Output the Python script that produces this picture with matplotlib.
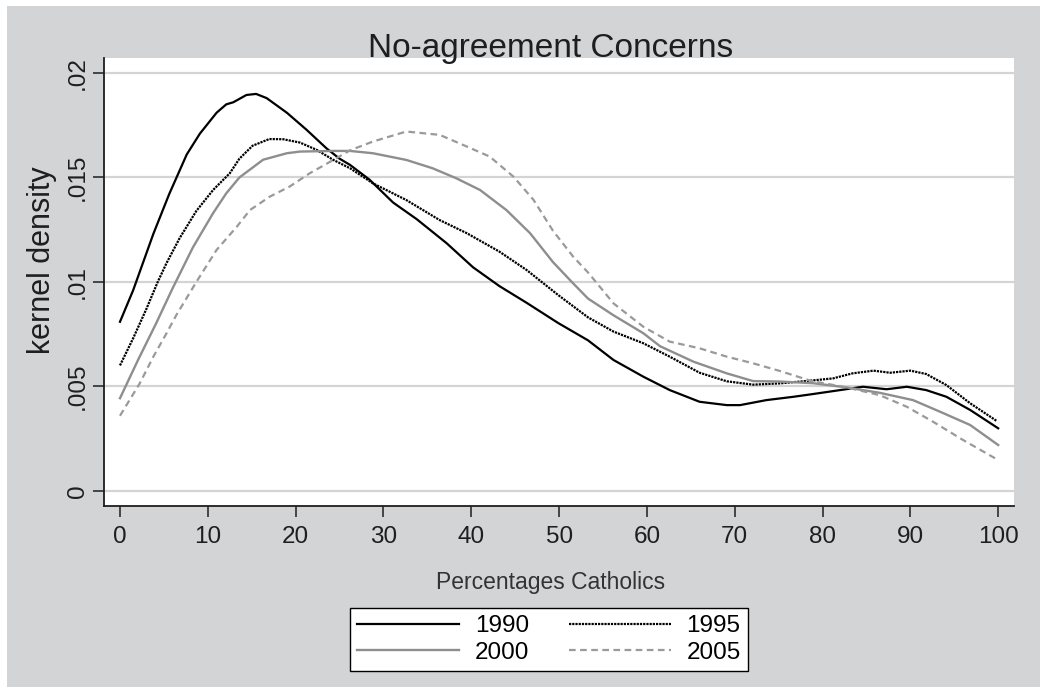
"""Kernel density of Catholic percentages, no-agreement concerns (Stata look)."""

import matplotlib
matplotlib.use('Agg')
import matplotlib.pyplot as plt
from matplotlib.patches import Rectangle

plt.rcParams['font.family'] = ['Liberation Sans', 'DejaVu Sans']

# Data
X_1990 = [0, 1.5, 3.8, 5.6, 7.6, 9.1, 11.0, 12.1, 12.9, 14.4, 15.5, 16.7, 19.0,
          21.2, 23.5, 25.0, 26.2, 28.4, 31.1, 33.8, 37.2, 40.2, 43.2, 46.3,
          49.9, 53.3, 56.2, 59.6, 62.6, 66.0, 69.1, 70.6, 73.6, 76.7, 78.9,
          82.0, 84.6, 87.3, 89.6, 91.8, 94.1, 96.8, 100]
Y_1990 = [0.00809, 0.0096, 0.0123, 0.0142, 0.0161, 0.0171, 0.0181, 0.0185,
          0.0186, 0.01895, 0.0190, 0.0188, 0.0181, 0.0173, 0.0164,
          0.0159, 0.0156, 0.0149, 0.0138, 0.0130, 0.01185, 0.0107, 0.0098,
          0.0090, 0.00803, 0.0072, 0.00626, 0.00546, 0.00482, 0.00426,
          0.0041, 0.0041, 0.00434, 0.0045, 0.00463, 0.00482, 0.00498,
          0.00486, 0.00498, 0.00482, 0.0045, 0.00387, 0.00299]

X_1995 = [0, 1.5, 3.0, 4.3, 5.3, 6.8, 8.7, 10.6, 12.5, 13.6, 15.1, 17.0, 18.6,
          20.5, 22.4, 24.3, 26.2, 28.8, 32.6, 36.4, 39.5, 43.2, 46.3, 49.9,
          53.3, 56.2, 59.6, 62.6, 66.0, 69.1, 72.1, 75.1, 78.8, 81.2, 83.4,
          85.8, 87.7, 90.0, 91.8, 94.1, 96.8, 99.8]
Y_1995 = [0.0060, 0.0073, 0.0087, 0.0100, 0.0109, 0.0121, 0.0134, 0.0144,
          0.0152, 0.0159, 0.01652, 0.01684, 0.01683, 0.01667, 0.01632,
          0.01584, 0.01544, 0.01472, 0.01392, 0.01296, 0.01233, 0.01145,
          0.01057, 0.00937, 0.0083, 0.00762, 0.00706, 0.00642, 0.00565,
          0.00524, 0.00508, 0.00514, 0.00528, 0.00538, 0.00562, 0.00575,
          0.00565, 0.00575, 0.00559, 0.00506, 0.00419, 0.00335]

X_2000 = [0, 2.1, 4.1, 6.0, 8.3, 10.6, 12.1, 13.6, 16.3, 19.0, 20.5, 24.3,
          26.2, 28.8, 32.6, 35.6, 38.3, 41.0, 44.0, 46.7, 49.3, 51.6, 53.3,
          56.2, 59.6, 61.5, 65.3, 69.1, 72.1, 75.1, 78.9, 82.7, 86.5, 90.3,
          93.4, 96.8, 100]
Y_2000 = [0.00443, 0.0063, 0.0080, 0.0097, 0.01165, 0.01329, 0.01424,
          0.0150, 0.01585, 0.01616, 0.01624, 0.01627, 0.01627, 0.01616,
          0.01584, 0.01544, 0.01496, 0.0144, 0.01344, 0.01233, 0.01095,
          0.00993, 0.0092, 0.0084, 0.00754, 0.00692, 0.00618, 0.00562,
          0.00525, 0.00523, 0.00515, 0.00495, 0.00469, 0.00434, 0.00378,
          0.00315, 0.00219]

X_2005 = [0, 2.25, 3.8, 5.3, 6.4, 8.7, 11.0, 13.3, 14.8, 17.05, 19.3, 21.6,
          24.3, 26.2, 28.8, 32.6, 36.4, 39.5, 42.1, 44.8, 47.1, 49.3, 51.6,
          53.3, 56.2, 59.6, 62.6, 66.0, 69.1, 72.1, 75.1, 78.7, 82.7, 86.5,
          89.6, 92.6, 96.0, 100]
Y_2005 = [0.00359, 0.00514, 0.00642, 0.00754, 0.0084, 0.0100, 0.01153,
          0.01264, 0.01344, 0.01408, 0.01456, 0.0152, 0.01584, 0.0163,
          0.01672, 0.0172, 0.01704, 0.01648, 0.0160, 0.01504, 0.01392,
          0.01245, 0.01121, 0.01045, 0.00897, 0.00785, 0.00714, 0.00682,
          0.00642, 0.0061, 0.00574, 0.00526, 0.00495, 0.00458, 0.00402,
          0.0033, 0.00243, 0.00147]

X_TICKS = [0, 10, 20, 30, 40, 50, 60, 70, 80, 90, 100]
Y_TICKS = [0, 0.005, 0.01, 0.015, 0.02]
Y_TICK_LABELS = ['0', '.005', '.01', '.015', '.02']

# Colors
COLORS = {
    "outer": "#d3d4d6",
    "grid": "#d4d4d4",
    "text": "#1e1e1e",
    "dark": "#000000",
    "gray": "#8e8e8e",
    "gray_dash": "#9a9a9a",
}

W, H = 1047, 693
fig = plt.figure(figsize=(W / 100, H / 100), dpi=100, facecolor='white')
fig.patches.append(Rectangle((7 / W, 6 / H), 1033 / W, 681 / H,
                             transform=fig.transFigure, facecolor=COLORS["outer"],
                             edgecolor='none', zorder=-10))

ax = fig.add_axes([104 / W, 1 - 506 / H, 910 / W, 448 / H])
ax.set_facecolor('white')

l1990, = ax.plot(X_1990, Y_1990, color=COLORS["dark"], lw=1.6, label='1990')
l1995, = ax.plot(X_1995, Y_1995, color=COLORS["dark"], lw=1.6,
                 linestyle=(0, (1, 0.45)), label='1995')
l2000, = ax.plot(X_2000, Y_2000, color=COLORS["gray"], lw=1.7, label='2000')
l2005, = ax.plot(X_2005, Y_2005, color=COLORS["gray_dash"], lw=1.6,
                 linestyle=(0, (3, 2)), label='2005')

ax.set_xlim(-1.82, 101.8)
ax.set_ylim(-0.00073, 0.02072)
ax.set_xticks(X_TICKS)
ax.set_yticks(Y_TICKS)
ax.set_yticklabels(Y_TICK_LABELS, rotation=90, va='center')

ax.tick_params(axis='both', direction='out', length=7.6, width=1.1,
               colors=COLORS["text"], labelsize=17.5)
ax.tick_params(axis='x', pad=7)
ax.tick_params(axis='y', pad=3.5)

ax.yaxis.grid(True, color=COLORS["grid"], linewidth=1.6)
ax.set_axisbelow(True)

for spine in ['top', 'right']:
    ax.spines[spine].set_visible(False)
for spine in ['bottom', 'left']:
    ax.spines[spine].set_color(COLORS["text"])
    ax.spines[spine].set_linewidth(1.3)

ax.set_title('No-agreement Concerns', fontsize=24, color=COLORS["text"],
             pad=0, x=(551 - 104) / 910, y=1 + 1 / 448)
ax.set_ylabel('kernel density', fontsize=22, color=COLORS["text"], va='center')
ax.yaxis.set_label_coords((42 - 104) / 910, (506 - 260) / 448)
ax.set_xlabel('Percentages Catholics', fontsize=16.5, color='#333333', va='center')
ax.xaxis.set_label_coords((551 - 104) / 910, (506 - 583) / 448)

leg = ax.legend(handles=[l1990, l2000, l1995, l2005], ncol=2,
                loc='center', bbox_to_anchor=(549 / W, 1 - 639.5 / H),
                bbox_transform=fig.transFigure, fontsize=17.5,
                frameon=True, fancybox=False, edgecolor='black',
                handlelength=4.2, handletextpad=0.65, columnspacing=1.6,
                labelspacing=0.2, borderpad=0.3)
leg.get_frame().set_linewidth(1.0)
leg.get_frame().set_facecolor('white')
leg.get_frame().set_alpha(1)

fig.savefig('out.png', dpi=100, facecolor='white')
